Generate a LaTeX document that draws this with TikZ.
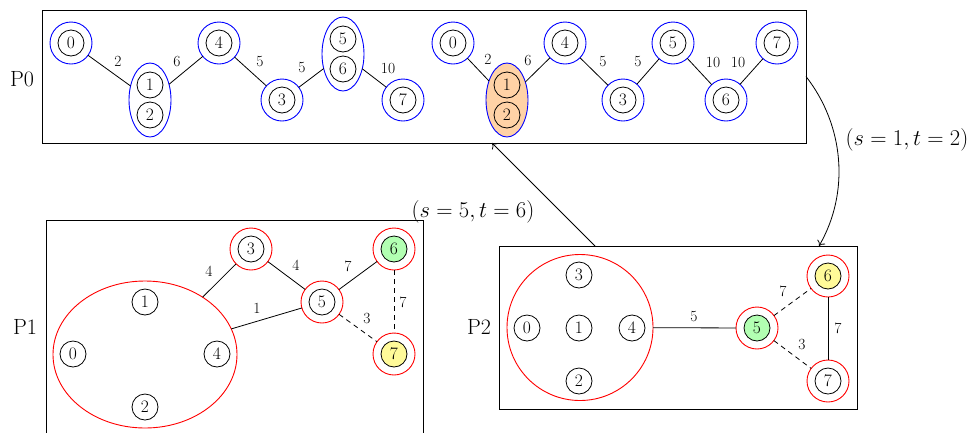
\documentclass[tikz,border=0pt]{standalone}
\usetikzlibrary{shapes.geometric,arrows.meta}
\begin{document}
\begin{tikzpicture}[x=1pt,y=-1pt,
  every node/.style={inner sep=0pt, outer sep=0pt},
  v/.style={circle, draw, line width=0.8pt, minimum size=26pt, font=\fontsize{17.5}{19}\selectfont},
  ob/.style={circle, draw=blue, line width=0.9pt, minimum size=42pt},
  orr/.style={circle, draw=red, line width=0.9pt, minimum size=42pt},
  grpb/.style={ellipse, draw=blue, line width=0.9pt, minimum width=42pt, minimum height=74pt},
  el/.style={font=\fontsize{15.5}{17}\selectfont},
  e/.style={line width=0.8pt},
  dsh/.style={dash pattern=on 5pt off 4pt},
  arr/.style={-{To[length=5pt,width=9pt]}},
  big/.style={font=\fontsize{22}{25}\selectfont},
  box/.style={draw, line width=0.95pt, rectangle},
]
\useasboundingbox (0,0) rectangle (974,432);

% ---------------- P0 ----------------
\node[box, minimum width=764pt, minimum height=133pt] (P0box) at (424,76.5) {};
\node[big] (P0lab) at (22,79) {P0};

% left graph
\node[ob] (A0o) at (71,43) {};  \node[v] (A0) at (71,43) {0};
\node[grpb] (A12) at (150,100) {};
\node[v] (A1) at (150,85) {1};  \node[v] (A2) at (150,115) {2};
\node[ob] (A4o) at (219,43) {}; \node[v] (A4) at (219,43) {4};
\node[ob] (A3o) at (282,100) {}; \node[v] (A3) at (282,100) {3};
\node[grpb] (A56) at (343,54) {};
\node[v] (A5) at (343,39) {5};  \node[v] (A6) at (343,69) {6};
\node[ob] (A7o) at (403,100) {}; \node[v] (A7) at (403,100) {7};
\draw[e] (A0o) -- (A12);
\draw[e] (A12) -- (A4o);
\draw[e] (A4o) -- (A3o);
\draw[e] (A3o) -- (A56);
\draw[e] (A56) -- (A7o);
\node[el] (la1) at (118,61) {2};
\node[el] (la2) at (177,61) {6};
\node[el] (la3) at (260,62) {5};
\node[el] (la4) at (302,68) {5};
\node[el] (la5) at (388,68) {10};

% right graph
\node[ob] (B0o) at (453,43) {};  \node[v] (B0) at (453,43) {0};
\node[grpb, fill=orange!35] (B12) at (507,100) {};
\node[v] (B1) at (507,85) {1};  \node[v] (B2) at (507,115) {2};
\node[ob] (B4o) at (565,43) {}; \node[v] (B4) at (565,43) {4};
\node[ob] (B3o) at (623,100) {}; \node[v] (B3) at (623,100) {3};
\node[ob] (B5o) at (673,43) {}; \node[v] (B5) at (673,43) {5};
\node[ob] (B6o) at (726,100) {}; \node[v] (B6) at (726,100) {6};
\node[ob] (B7o) at (777,43) {}; \node[v] (B7) at (777,43) {7};
\draw[e] (B0o) -- (B12);
\draw[e] (B12) -- (B4o);
\draw[e] (B4o) -- (B3o);
\draw[e] (B3o) -- (B5o);
\draw[e] (B5o) -- (B6o);
\draw[e] (B6o) -- (B7o);
\node[el] (lb1) at (488,59) {2};
\node[el] (lb2) at (528,60) {6};
\node[el] (lb3) at (603,62) {5};
\node[el] (lb4) at (638,62) {5};
\node[el] (lb5) at (713,62) {10};
\node[el] (lb6) at (738,62) {10};

% ---------------- P1 ----------------
\node[box, minimum width=377pt, minimum height=240pt] (P1box) at (234.5,340) {};
\node[big] (P1lab) at (25,327) {P1};
\node[ellipse, draw=red, line width=0.9pt, minimum width=184pt, minimum height=147pt] (C) at (145,354.5) {};
\node[v] (C1) at (145,302) {1};
\node[v] (C0) at (73,354) {0};
\node[v] (C4) at (217,354) {4};
\node[v] (C2) at (145,407) {2};
\node[orr] (C3o) at (251,249) {}; \node[v] (C3) at (251,249) {3};
\node[orr] (C5o) at (322,302) {}; \node[v] (C5) at (322,302) {5};
\node[orr] (C6o) at (394,249) {}; \node[v, fill=green!30] (C6) at (394,249) {6};
\node[orr] (C7o) at (394,354) {}; \node[v, fill=yellow!40] (C7) at (394,354) {7};
\draw[e] (C) -- (C3o);
\draw[e] (C3o) -- (C5o);
\draw[e] (C) -- (C5o);
\draw[e] (C5o) -- (C6o);
\draw[e, dsh] (C6o) -- (C7o);
\draw[e, dsh] (C5o) -- (C7o);
\node[el] (lc1) at (209,271) {4};
\node[el] (lc2) at (296,265) {4};
\node[el] (lc3) at (257,308) {1};
\node[el] (lc4) at (348,266) {7};
\node[el] (lc5) at (403,302) {7};
\node[el] (lc6) at (367,318) {3};

% ---------------- P2 ----------------
\node[box, minimum width=358pt, minimum height=163pt] (P2box) at (678,327.5) {};
\node[big] (P2lab) at (479,327) {P2};
\node[circle, draw=red, line width=0.9pt, minimum size=146pt] (D) at (580,327.5) {};
\node[v] (D3) at (579,275) {3};
\node[v] (D0) at (527,328) {0};
\node[v] (D1) at (579,328) {1};
\node[v] (D4) at (632,328) {4};
\node[v] (D2) at (579,381) {2};
\node[orr] (D5o) at (757,328) {}; \node[v, fill=green!30] (D5) at (757,328) {5};
\node[orr] (D6o) at (828,276) {}; \node[v, fill=yellow!40] (D6) at (828,276) {6};
\node[orr] (D7o) at (828,381) {}; \node[v] (D7) at (828,381) {7};
\draw[e] (D) -- (D5o);
\draw[e, dsh] (D5o) -- (D6o);
\draw[e, dsh] (D5o) -- (D7o);
\draw[e] (D6o) -- (D7o);
\node[el] (ld1) at (694,317) {5};
\node[el] (ld2) at (783,291) {7};
\node[el] (ld3) at (802,344) {3};
\node[el] (ld4) at (838,328) {7};

% ---------------- arrows between partitions ----------------
\coordinate (t1) at (819,246);
\draw[e, arr] (P0box.east) .. controls (844.2,125.4) and (850,192.3) .. (t1);
\node[big] (s1lab) at (907,140) {\scalebox{1.09}{$(s=1,t=2)$}};

\coordinate (s2) at (595,246);
\coordinate (t2) at (492,143);
\draw[e, arr] (s2) -- (t2);
\node[big] (s2lab) at (473,212) {\scalebox{1.09}{$(s=5,t=6)$}};
\end{tikzpicture}
\end{document}
